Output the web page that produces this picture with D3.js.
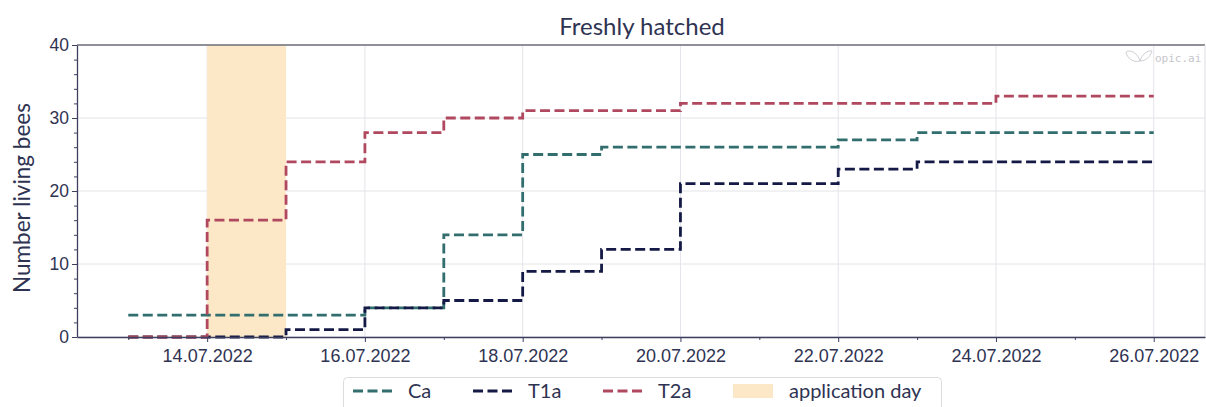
<!DOCTYPE html>
<html>
<head>
<meta charset="utf-8">
<script src="https://cdn.jsdelivr.net/npm/d3@7"></script>
<style>
  html, body { margin: 0; padding: 0; background: #fff; }
  svg { display: block; font-family: Lato, "Open Sans", sans-serif; }
</style>
</head>
<body>
<svg id="chart" width="1206" height="407"></svg>
<script>
// Daily counts of living freshly hatched bees per group
const days = ["13.07.2022","14.07.2022","15.07.2022","16.07.2022","17.07.2022","18.07.2022","19.07.2022",
              "20.07.2022","21.07.2022","22.07.2022","23.07.2022","24.07.2022","25.07.2022","26.07.2022"];
const ca  = [3, 3, 3, 4, 14, 25, 26, 26, 26, 27, 28, 28, 28, 28];
const t1a = [0, 0, 1, 4, 5, 9, 12, 21, 21, 23, 24, 24, 24, 24];
const t2a = [0, 16, 24, 28, 30, 31, 31, 32, 32, 32, 32, 33, 33, 33];
const seriesNames = ["Ca", "T1a", "T2a"];
const applicationDay = ["14.07.2022", "15.07.2022"];
const yTicks = [0, 10, 20, 30, 40];
const xTickLabels = ["14.07.2022","16.07.2022","18.07.2022","20.07.2022","22.07.2022","24.07.2022","26.07.2022"];

const parse = d3.timeParse("%d.%m.%Y");
const fmt = d3.timeFormat("%d.%m.%Y");
const colors = { Ca: "#336e6f", T1a: "#141a45", T2a: "#b0485f" };
const spanColor = "#fce8c6";
const ink = "#2f3352";

const svg = d3.select("#chart");
const M = { left: 77, right: 1205, top: 45, bottom: 337 };

const dayDates = days.map(parse);
const first = dayDates[0], last = dayDates[dayDates.length - 1];
const pad = (last - first) * 0.05;
const x = d3.scaleTime()
  .domain([new Date(+first - pad), new Date(+last + pad)])
  .range([M.left, M.right]);
const y = d3.scaleLinear().domain([0, 40]).range([M.bottom, M.top]);

const majorX = xTickLabels.map(parse);
const minorX = dayDates.filter(d => !majorX.some(m => +m === +d));
const minorY = d3.range(0, 41, 2).filter(v => v % 10 !== 0);

// grid
const grid = svg.append("g");
grid.selectAll("line.gx").data(majorX).join("line")
  .attr("x1", d => x(d)).attr("x2", d => x(d))
  .attr("y1", M.top).attr("y2", M.bottom)
  .attr("stroke", "#e4e4ea").attr("stroke-width", 1);
grid.selectAll("line.gy").data(yTicks).join("line")
  .attr("x1", M.left).attr("x2", M.right)
  .attr("y1", d => y(d)).attr("y2", d => y(d))
  .attr("stroke", "#e4e4ea").attr("stroke-width", 1);

// application day span
svg.append("rect")
  .attr("x", x(parse(applicationDay[0])))
  .attr("width", x(parse(applicationDay[1])) - x(parse(applicationDay[0])))
  .attr("y", M.top).attr("height", M.bottom - M.top)
  .attr("fill", spanColor);

// step lines
const line = d3.line()
  .x((d, i) => x(dayDates[i]))
  .y(d => y(d))
  .curve(d3.curveStepAfter);
const data = { Ca: ca, T1a: t1a, T2a: t2a };
seriesNames.forEach(name => {
  svg.append("path")
    .attr("d", line(data[name]))
    .attr("fill", "none")
    .attr("stroke", colors[name])
    .attr("stroke-width", 2.8)
    .attr("stroke-dasharray", "10,4.5");
});

// frame
svg.append("line").attr("x1", M.left).attr("x2", M.right).attr("y1", M.top).attr("y2", M.top)
  .attr("stroke", "#6e6f78").attr("stroke-width", 1.4);
svg.append("line").attr("x1", M.right).attr("x2", M.right).attr("y1", M.top).attr("y2", M.bottom)
  .attr("stroke", "#dcdce2").attr("stroke-width", 1);

// axes
const xAxis = svg.append("g").attr("transform", `translate(0,${M.bottom})`)
  .call(d3.axisBottom(x).tickValues(majorX).tickFormat(fmt).tickSize(5).tickSizeOuter(0));
svg.append("g").attr("transform", `translate(0,${M.bottom})`)
  .call(d3.axisBottom(x).tickValues(minorX).tickFormat("").tickSize(3).tickSizeOuter(0))
  .call(g => g.select(".domain").remove());
const yAxis = svg.append("g").attr("transform", `translate(${M.left},0)`)
  .call(d3.axisLeft(y).tickValues(yTicks).tickSize(5).tickSizeOuter(0));
svg.append("g").attr("transform", `translate(${M.left},0)`)
  .call(d3.axisLeft(y).tickValues(minorY).tickFormat("").tickSize(3).tickSizeOuter(0))
  .call(g => g.select(".domain").remove());

svg.selectAll(".domain").attr("stroke", "#3c3f5e").attr("stroke-width", 1.3);
svg.selectAll(".tick line").attr("stroke", "#3c3f5e");
xAxis.selectAll("text").attr("font-size", 18).attr("fill", ink).attr("y", 25).attr("dy", 0);
yAxis.selectAll("text").attr("font-size", 17.5).attr("fill", ink).attr("x", -8);

// titles
svg.append("text").attr("x", 642).attr("y", 35).attr("text-anchor", "middle")
  .attr("font-size", 24).attr("fill", ink).text("Freshly hatched");
svg.append("text").attr("transform", `translate(30,198) rotate(-90)`)
  .attr("text-anchor", "middle").attr("font-size", 22.5).attr("fill", ink).text("Number living bees");

// watermark
const wm = svg.append("g").attr("fill", "none").attr("stroke", "#cfcfd4").attr("stroke-width", 1);
wm.append("path").attr("d", "M1126,52 C1130,49 1138,53 1140,61 C1133,63 1127,58 1126,52 Z");
wm.append("path").attr("d", "M1140,61 C1142,54 1148,50 1152,51 C1150,57 1146,61 1140,61 Z");
svg.append("text").attr("x", 1155).attr("y", 62).attr("font-family", "'DejaVu Sans Mono', monospace")
  .attr("font-size", 11).attr("fill", "#c6c6cc").text("opic.ai");

// legend
const lg = svg.append("g");
lg.append("rect").attr("x", 343.5).attr("y", 377.5).attr("width", 598).attr("height", 40)
  .attr("rx", 4).attr("fill", "#fff").attr("stroke", "#dcdce0");
const entries = [
  { name: "Ca", lx: 353, tx: 408 },
  { name: "T1a", lx: 473, tx: 528 },
  { name: "T2a", lx: 603, tx: 658 }
];
entries.forEach(e => {
  lg.append("line").attr("x1", e.lx).attr("x2", e.lx + 40).attr("y1", 391).attr("y2", 391)
    .attr("stroke", colors[e.name]).attr("stroke-width", 2.8).attr("stroke-dasharray", "10,4.5");
  lg.append("text").attr("x", e.tx).attr("y", 398).attr("font-size", 20).attr("fill", ink).text(e.name);
});
lg.append("rect").attr("x", 733).attr("y", 384).attr("width", 40).attr("height", 14).attr("fill", spanColor);
lg.append("text").attr("x", 789).attr("y", 398).attr("font-size", 20).attr("fill", ink).text("application day");
</script>
</body>
</html>
